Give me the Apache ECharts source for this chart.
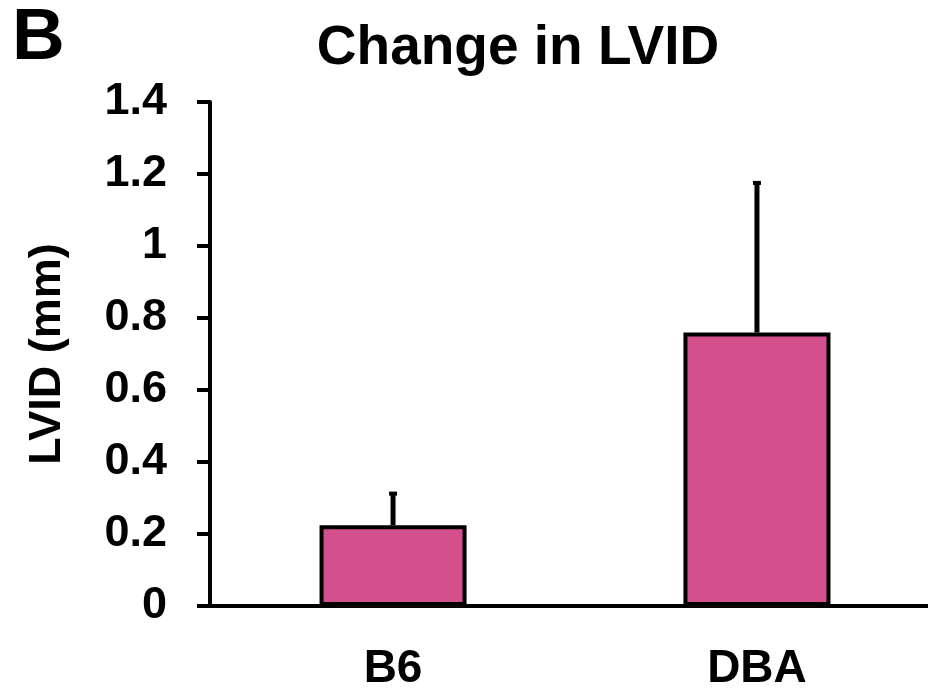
<!DOCTYPE html>
<html><head><meta charset="utf-8">
<script src="https://cdn.jsdelivr.net/npm/echarts@6/dist/echarts.min.js"></script>
<style>html,body{margin:0;padding:0;background:#fff}#c{width:928px;height:692px}</style>
</head><body><div id="c"></div>
<script>
var categories = ['B6', 'DBA'];
var means = [0.224, 0.76];
var errorTops = [0.315, 1.178];
var yTicks = [0, 0.2, 0.4, 0.6, 0.8, 1, 1.2, 1.4];

var chart = echarts.init(document.getElementById('c'));
var font = '"Liberation Sans", Arial, sans-serif';
var positions = categories.map(function (c, i) { return i; });
chart.setOption({
  animation: false,
  title: [
    {text: 'Change in LVID', left: 513, top: 16, textAlign: 'center',
     textStyle: {fontFamily: font, fontWeight: 'bold', fontSize: 55, color: '#000'}},
    {text: 'B', left: 7, top: -3,
     textStyle: {fontFamily: font, fontWeight: 'bold', fontSize: 73, color: '#000'}}
  ],
  grid: {left: 210, right: 0, top: 102, height: 504, containLabel: false},
  xAxis: {
    type: 'value', min: -0.503, max: 1.47,
    splitLine: {show: false},
    axisLine: {show: true, onZero: false, lineStyle: {color: '#000', width: 4}},
    axisTick: {show: false},
    axisLabel: {fontFamily: font, fontWeight: 'bold', fontSize: 46, color: '#000', margin: 40,
      customValues: positions,
      formatter: function (v) { var i = Math.round(v); return Math.abs(v - i) < 1e-6 && categories[i] ? categories[i] : ''; }}
  },
  yAxis: {
    type: 'value', min: 0, max: 1.4, interval: 0.2,
    name: 'LVID (mm)', nameLocation: 'middle', nameGap: 140, nameRotate: 90,
    nameTextStyle: {fontFamily: font, fontWeight: 'bold', fontSize: 45, color: '#000'},
    axisLine: {show: true, onZero: false, lineStyle: {color: '#000', width: 4}},
    axisTick: {show: true, length: 13, lineStyle: {color: '#000', width: 4}},
    splitLine: {show: false},
    axisLabel: {fontFamily: font, fontWeight: 'bold', fontSize: 45, color: '#000', margin: 43,
      formatter: function (v) { var t = yTicks.find(function(x){return Math.abs(x-v)<1e-9;}); return t === undefined ? '' : String(t); }}
  },
  series: [
    {type: 'bar', data: positions.map(function (p, i) { return [p, means[i]]; }), barWidth: 147,
     itemStyle: {color: '#D3508D', borderColor: '#000', borderWidth: 4}, z: 2},
    {type: 'custom', z: 1,
     data: positions.map(function (p, i) { return [p, means[i], errorTops[i]]; }),
     renderItem: function (params, api) {
       var p0 = api.coord([api.value(0), api.value(1)]);
       var p1 = api.coord([api.value(0), api.value(2)]);
       return {type: 'group', children: [
         {type: 'line', shape: {x1: p0[0], y1: p0[1], x2: p1[0], y2: p1[1]},
          style: {stroke: '#000', lineWidth: 5}},
         {type: 'line', shape: {x1: p1[0] - 4, y1: p1[1] + 1, x2: p1[0] + 4, y2: p1[1] + 1},
          style: {stroke: '#000', lineWidth: 4}}
       ]};
     }}
  ]
});
</script></body></html>
